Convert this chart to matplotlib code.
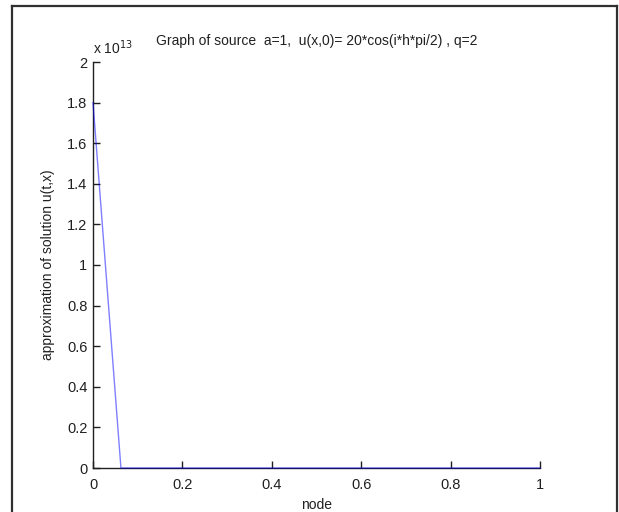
import matplotlib
matplotlib.use("Agg")
import matplotlib.pyplot as plt
from matplotlib.lines import Line2D
from matplotlib.ticker import FixedLocator, FixedFormatter
import numpy as np

plt.rcParams['font.family'] = ['Liberation Sans', 'DejaVu Sans']

# grid nodes x_i = i*h with h = 1/16, and the computed solution u(t,x) at those nodes
nodes = [i / 16 for i in range(17)]
u_values = [1.8e13] + [0.0] * 16

x_ticks = [0, 0.2, 0.4, 0.6, 0.8, 1]
x_tick_labels = ["0", "0.2", "0.4", "0.6", "0.8", "1"]
y_ticks = [0, 0.2e13, 0.4e13, 0.6e13, 0.8e13, 1.0e13, 1.2e13, 1.4e13, 1.6e13, 1.8e13, 2.0e13]
y_tick_labels = ["0", "0.2", "0.4", "0.6", "0.8", "1", "1.2", "1.4", "1.6", "1.8", "2"]

title_text = "Graph of source  a=1,  u(x,0)= 20*cos(i*h*pi/2) , q=2"
x_label = "node"
y_label = "approximation of solution u(t,x)"

W, H = 619, 512
fig = plt.figure(figsize=(W / 100, H / 100), dpi=100)
fig.patch.set_facecolor("white")

# page frame around the figure (bottom edge runs off the page)
frame_kw = dict(color="#303030", linewidth=1.6, transform=fig.transFigure)
x0, x1 = 12 / W, 617 / W
ytop = 1 - 6 / H
fig.add_artist(Line2D([x0, x1], [ytop, ytop], **frame_kw))
fig.add_artist(Line2D([x0, x0], [ytop, -0.01], **frame_kw))
fig.add_artist(Line2D([x1, x1], [ytop, -0.01], **frame_kw))

left, right, top, bottom = 93, 540, 62, 468
ax = fig.add_axes([left / W, 1 - bottom / H, (right - left) / W, (bottom - top) / H])

ax.plot(nodes, u_values, color=(0, 0, 1), alpha=0.5, linewidth=1.0,
        zorder=3, clip_on=False)

ax.set_xlim(0, 1)
ax.set_ylim(0, 2e13)
ax.xaxis.set_major_locator(FixedLocator(x_ticks))
ax.xaxis.set_major_formatter(FixedFormatter(x_tick_labels))
ax.yaxis.set_major_locator(FixedLocator(y_ticks))
ax.yaxis.set_major_formatter(FixedFormatter(y_tick_labels))

for side in ("top", "right"):
    ax.spines[side].set_visible(False)
for side in ("left", "bottom"):
    ax.spines[side].set_color("#202020")
    ax.spines[side].set_linewidth(1.0)

ax.tick_params(direction="in", length=5, width=1.0, color="#202020",
               labelsize=10.5, labelcolor="#202020")
ax.tick_params(axis="x", pad=7)
ax.tick_params(axis="y", pad=4)

ax.set_title(title_text, fontsize=10, color="#202020", pad=12)
ax.set_xlabel(x_label, fontsize=10, color="#202020")
ax.set_ylabel(y_label, fontsize=10, color="#202020")
ax.xaxis.set_label_coords(0.5, -(498 - bottom) / (bottom - top), transform=ax.transAxes)
ax.yaxis.set_label_coords(-(93 - 55) / (right - left), 0.5, transform=ax.transAxes)

ax.text(0.0, 1.0 + 5 / (bottom - top), r"x 10$^{13}$", transform=ax.transAxes,
        fontsize=10, color="#202020", ha="left", va="bottom")

fig.savefig("out.png", dpi=100, facecolor="white")
